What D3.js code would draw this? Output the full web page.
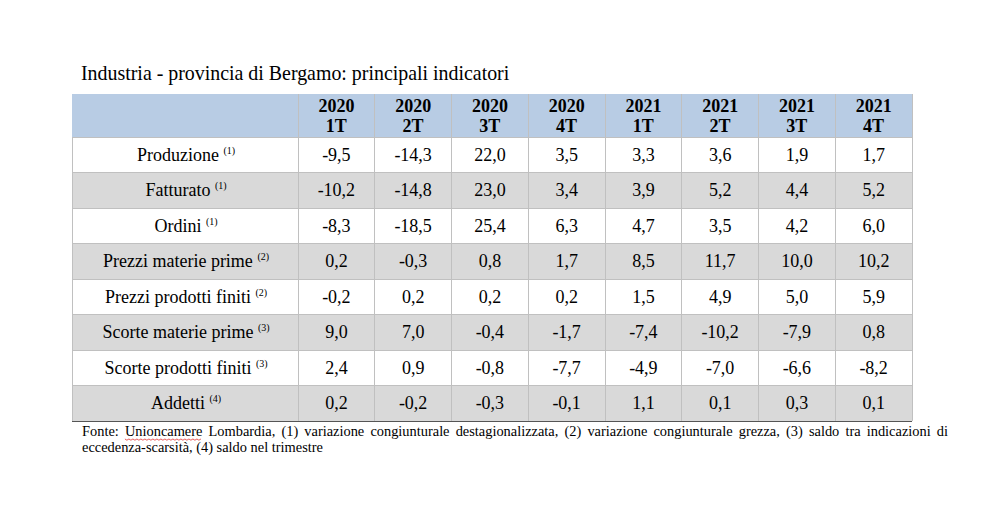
<!DOCTYPE html>
<html><head><meta charset="utf-8">
<script src="https://cdn.jsdelivr.net/npm/d3@7"></script>
<style>body{margin:0;background:#fff}svg{display:block}</style>
</head><body>
<svg id="c" width="1004" height="514"></svg>
<script>
const title = "Industria - provincia di Bergamo: principali indicatori";
const periodYears = ["2020","2020","2020","2020","2021","2021","2021","2021"];
const periodQuarters = ["1T","2T","3T","4T","1T","2T","3T","4T"];
const indicators = ["Produzione","Fatturato","Ordini","Prezzi materie prime","Prezzi prodotti finiti","Scorte materie prime","Scorte prodotti finiti","Addetti"];
const notes = ["(1)","(1)","(1)","(2)","(2)","(3)","(3)","(4)"];
const produzione = [-9.5,-14.3,22.0,3.5,3.3,3.6,1.9,1.7];
const fatturato = [-10.2,-14.8,23.0,3.4,3.9,5.2,4.4,5.2];
const ordini = [-8.3,-18.5,25.4,6.3,4.7,3.5,4.2,6.0];
const prezziMaterie = [0.2,-0.3,0.8,1.7,8.5,11.7,10.0,10.2];
const prezziProdotti = [-0.2,0.2,0.2,0.2,1.5,4.9,5.0,5.9];
const scorteMaterie = [9.0,7.0,-0.4,-1.7,-7.4,-10.2,-7.9,0.8];
const scorteProdotti = [2.4,0.9,-0.8,-7.7,-4.9,-7.0,-6.6,-8.2];
const addetti = [0.2,-0.2,-0.3,-0.1,1.1,0.1,0.3,0.1];
const footLine1 = "Fonte: Unioncamere Lombardia, (1) variazione congiunturale destagionalizzata, (2) variazione congiunturale grezza, (3) saldo tra indicazioni di";
const footLine2 = "eccedenza-scarsità, (4) saldo nel trimestre";

const values = [produzione,fatturato,ordini,prezziMaterie,prezziProdotti,scorteMaterie,scorteProdotti,addetti];
const fmt = d3.formatLocale({decimal:",",thousands:".",grouping:[3],currency:["","€"],minus:"-"}).format(".1f");
const font = "'Liberation Serif','Times New Roman',serif";

const svg = d3.select("#c");
const left = 72, right = 912, firstColW = 226;
const headTop = 94, headBot = 137, bottom = 421;

const x = d3.scaleBand().domain(d3.range(8)).range([left+firstColW, right]);
const y = d3.scaleBand().domain(d3.range(8)).range([headBot, bottom]);

svg.append("text").attr("x",81).attr("y",80).attr("font-family",font).attr("font-size",19.9).attr("fill","#000").text(title);

svg.append("rect").attr("x",left).attr("y",headTop).attr("width",right-left).attr("height",headBot-headTop).attr("fill","#b8cce4");
svg.selectAll("rect.row").data(indicators).join("rect").attr("class","row")
  .attr("x",left).attr("y",(d,i)=>y(i)).attr("width",right-left).attr("height",y.bandwidth())
  .attr("fill",(d,i)=> i%2 ? "#d9d9d9" : "#ffffff");

const gl = svg.append("g").attr("stroke","#c0c0c0").attr("stroke-width",1).attr("shape-rendering","crispEdges");
gl.selectAll("line.h").data(d3.range(8)).join("line")
  .attr("x1",left).attr("x2",right).attr("y1",i=>y(i)).attr("y2",i=>y(i));
gl.selectAll("line.v").data(d3.range(8)).join("line")
  .attr("x1",i=>x(i)).attr("x2",i=>x(i)).attr("y1",headTop).attr("y2",bottom);
gl.append("line").attr("x1",left).attr("x2",left).attr("y1",headBot).attr("y2",bottom);
gl.append("line").attr("x1",right).attr("x2",right).attr("y1",headTop).attr("y2",bottom);
svg.append("line").attr("x1",left).attr("x2",right).attr("y1",bottom).attr("y2",bottom)
  .attr("stroke","#555").attr("stroke-width",1).attr("shape-rendering","crispEdges");

const hd = svg.append("g").attr("font-family",font).attr("font-weight","bold").attr("font-size",18).attr("text-anchor","middle").attr("fill","#000");
hd.selectAll("text.yr").data(periodYears).join("text").attr("x",(d,i)=>x(i)+x.bandwidth()/2).attr("y",112).text(d=>d);
hd.selectAll("text.q").data(periodQuarters).join("text").attr("x",(d,i)=>x(i)+x.bandwidth()/2).attr("y",132).text(d=>d);

const lab = svg.append("g").attr("font-family",font).attr("font-size",18).attr("fill","#000");
indicators.forEach((name,i)=>{
  const t = lab.append("text").attr("x",left+firstColW/2+1).attr("y",y(i)+y.bandwidth()/2+6).attr("text-anchor","middle");
  t.append("tspan").text(name+" ");
  t.append("tspan").attr("font-size",10).attr("dy",-7).text(notes[i]);
});

const vg = svg.append("g").attr("font-family",font).attr("font-size",18).attr("text-anchor","middle").attr("fill","#000");
values.forEach((row,i)=>{
  vg.selectAll(null).data(row).join("text")
    .attr("x",(d,j)=>x(j)+x.bandwidth()/2).attr("y",y(i)+y.bandwidth()/2+6).text(d=>fmt(d));
});

const fg = svg.append("g").attr("font-family",font).attr("font-size",14.4).attr("fill","#000");
const words = footLine1.split(" ");
const fx0 = 82, fx1 = 948;
const ws = words.map(w=>{ const t = fg.append("text").attr("y",436).text(w); const l = t.node().getComputedTextLength(); return {t,l}; });
const total = d3.sum(ws,d=>d.l);
const gap = (fx1-fx0-total)/(words.length-1);
let cx = fx0;
ws.forEach((d,i)=>{ d.t.attr("x",cx); if(words[i]==="Unioncamere"){
    const pts=[]; for(let k=0;k<=Math.floor(d.l/2);k++) pts.push([cx+k*2, 439+(k%2?1.2:0)]);
    svg.append("path").attr("d",d3.line()(pts)).attr("fill","none").attr("stroke","#e03030").attr("stroke-width",0.8);
  } cx += d.l+gap; });
fg.append("text").attr("x",fx0).attr("y",452).text(footLine2);
</script>
</body></html>
